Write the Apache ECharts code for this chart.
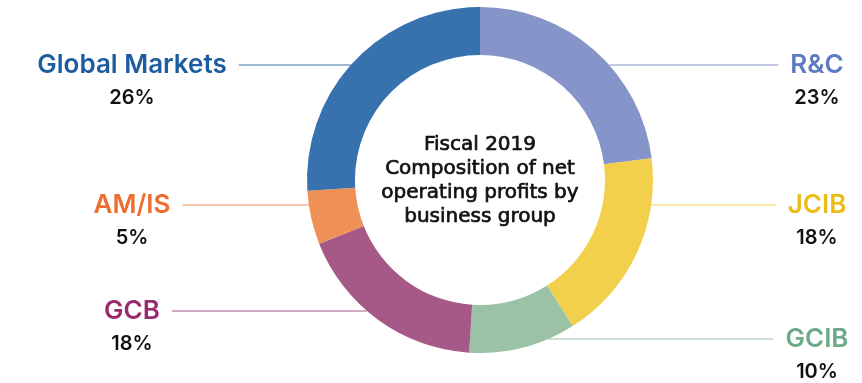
<!DOCTYPE html>
<html>
<head>
<meta charset="utf-8">
<script src="https://cdn.jsdelivr.net/npm/echarts@6/dist/echarts.min.js"></script>
<style>
  html, body { margin: 0; padding: 0; background: #fff; }
  #chart { width: 862px; height: 383px; }
</style>
</head>
<body>
<div id="chart"></div>
<script>
// Business groups, clockwise from 12 o'clock
const groups = ['R&C', 'JCIB', 'GCIB', 'GCB', 'AM/IS', 'Global Markets'];
const shares = [23, 18, 10, 18, 5, 26];
const sliceColors = ['#8594c9', '#f2d04c', '#9bc1a7', '#a65886', '#ef9057', '#3771ae'];
const nameColors = ['#5d7bc2', '#ecbc16', '#6bab88', '#9a2a6e', '#ee6d2e', '#1d5c9f'];
const centerTitle = ['Fiscal 2019', 'Composition of net', 'operating profits by', 'business group'];

// Label anchors: side of the chart and vertical position of the name line
const labelSide = ['right', 'right', 'right', 'left', 'left', 'left'];
const labelRowY = [65, 205, 339, 311, 205, 65];

const CX = 480, CY = 180, R_IN = 125, R_OUT = 173;
const LEFT_LABEL_X = 132, RIGHT_LABEL_X = 817;
const ROW_GAP = 33;
const LABEL_FONT = 'Inter, sans-serif';
const CENTER_FONT = '"DejaVu Sans", sans-serif';

const chart = echarts.init(document.getElementById('chart'));

function outerEdgeX(y, side) {
  const dy = y - CY;
  const dx = Math.sqrt(Math.max(0, R_OUT * R_OUT - dy * dy));
  return side === 'left' ? CX - dx : CX + dx;
}

chart.setOption({
  animation: false,
  series: [{
    type: 'pie',
    center: [CX, CY],
    radius: [R_IN, R_OUT],
    startAngle: 90,
    clockwise: true,
    avoidLabelOverlap: false,
    itemStyle: { borderWidth: 0 },
    emphasis: { disabled: true },
    data: groups.map((g, i) => ({
      name: g,
      value: shares[i],
      itemStyle: { color: sliceColors[i] },
      label: {
        rich: {
          n: { color: nameColors[i], fontSize: 26, fontWeight: 600, fontFamily: LABEL_FONT, lineHeight: ROW_GAP },
          p: { color: '#111', fontSize: 20, fontWeight: 600, fontFamily: LABEL_FONT, lineHeight: ROW_GAP }
        }
      },
      labelLine: { lineStyle: { color: sliceColors[i], width: 1 } }
    })),
    label: {
      show: true,
      position: 'outside',
      formatter: p => '{n|' + p.name + '}\n{p|' + p.value + '%}'
    },
    labelLine: { show: true, smooth: false },
    labelLayout: function (params) {
      const i = params.dataIndex;
      const side = labelSide[i];
      const y = labelRowY[i];
      const lx = side === 'left' ? LEFT_LABEL_X : RIGHT_LABEL_X;
      const w = params.labelRect.width;
      const edge = outerEdgeX(y, side);
      const end = side === 'left' ? lx + w / 2 + 12 : lx - w / 2 - 12;
      return {
        x: lx,
        y: y + ROW_GAP / 2,
        align: 'center',
        verticalAlign: 'middle',
        labelLinePoints: [[edge, y], [edge, y], [end, y]]
      };
    }
  }],
  graphic: [{
    type: 'text',
    x: CX,
    y: CY + 1,
    style: {
      text: centerTitle.join('\n'),
      fill: '#111',
      stroke: '#111',
      lineWidth: 0.7,
      font: '20px ' + CENTER_FONT,
      lineHeight: 24,
      textAlign: 'center',
      textVerticalAlign: 'middle'
    }
  }]
});
</script>
</body>
</html>
